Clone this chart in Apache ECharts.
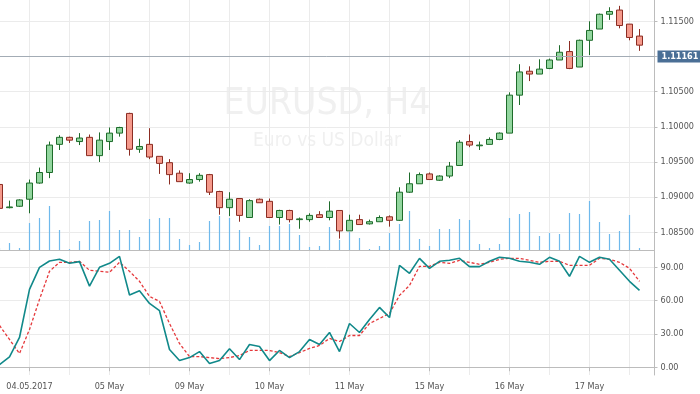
<!DOCTYPE html>
<html><head><meta charset="utf-8">
<script src="https://cdn.jsdelivr.net/npm/echarts@6/dist/echarts.min.js"></script>
<style>html,body{margin:0;padding:0;background:#fff}#c{width:700px;height:394px}</style>
</head><body><div id="c"></div>
<script>
// H4 candle times (MM-DD HH)
const times = ['05-03 20','05-04 00','05-04 04','05-04 08','05-04 12','05-04 16','05-04 20','05-05 00','05-05 04','05-05 08','05-05 12','05-05 16','05-05 20',
'05-08 00','05-08 04','05-08 08','05-08 12','05-08 16','05-08 20','05-09 00','05-09 04','05-09 08','05-09 12','05-09 16','05-09 20',
'05-10 00','05-10 04','05-10 08','05-10 12','05-10 16','05-10 20','05-11 00','05-11 04','05-11 08','05-11 12','05-11 16','05-11 20',
'05-12 00','05-12 04','05-12 08','05-12 12','05-12 16','05-12 20','05-15 00','05-15 04','05-15 08','05-15 12','05-15 16','05-15 20',
'05-16 00','05-16 04','05-16 08','05-16 12','05-16 16','05-16 20','05-17 00','05-17 04','05-17 08','05-17 12','05-17 16','05-17 20',
'05-18 00','05-18 04','05-18 08','05-18 12'];
const opens  = [1.0918,1.0885,1.0887,1.0897,1.0920,1.0935,1.0975,1.0985,1.0979,1.0985,1.0959,1.0979,1.0991,1.1019,1.0968,1.0975,1.0958,1.0949,1.0934,1.0920,1.0925,1.0932,1.0908,1.0885,1.0898,1.0871,1.0897,1.0894,1.0871,1.0881,1.0868,1.0868,1.0875,1.0871,1.0881,1.0852,1.0868,1.0862,1.0865,1.0872,1.0867,1.0907,1.0919,1.0933,1.0924,1.0930,1.0945,1.0979,1.0973,1.0975,1.0982,1.0991,1.1045,1.1079,1.1075,1.1083,1.1095,1.1107,1.1085,1.1123,1.1139,1.1160,1.1166,1.1146,1.1129];
const closes = [1.0884,1.0886,1.0896,1.0920,1.0935,1.0974,1.0985,1.0981,1.0984,1.0959,1.0981,1.0991,1.0999,1.0968,1.0972,1.0957,1.0948,1.0932,1.0922,1.0925,1.0931,1.0907,1.0885,1.0897,1.0874,1.0895,1.0892,1.0871,1.0881,1.0868,1.0869,1.0874,1.0871,1.0880,1.0852,1.0867,1.0861,1.0865,1.0871,1.0867,1.0907,1.0919,1.0932,1.0925,1.0930,1.0944,1.0978,1.0974,1.0974,1.0982,1.0991,1.1045,1.1078,1.1075,1.1082,1.1095,1.1106,1.1083,1.1123,1.1137,1.1160,1.1164,1.1144,1.1127,1.11161];
const lows   = [1.0882,1.0884,1.0886,1.0877,1.0919,1.0927,1.0967,1.0977,1.0974,1.0959,1.0950,1.0967,1.0986,1.0959,1.0963,1.0954,1.0933,1.0918,1.0922,1.0919,1.0922,1.0903,1.0875,1.0873,1.0865,1.0871,1.0892,1.0871,1.0861,1.0864,1.0855,1.0865,1.0871,1.0867,1.0841,1.0852,1.0861,1.0861,1.0865,1.0858,1.0866,1.0906,1.0919,1.0925,1.0923,1.0927,1.0945,1.0971,1.0967,1.0975,1.0981,1.0991,1.1031,1.1065,1.1075,1.1082,1.1095,1.1082,1.1085,1.1102,1.1139,1.1152,1.1140,1.1123,1.1108];
const highs  = [1.0920,1.0895,1.0897,1.0925,1.0942,1.0979,1.0988,1.0986,1.0991,1.0989,1.0992,1.0999,1.1000,1.1020,1.0983,1.0998,1.0958,1.0954,1.0938,1.0934,1.0934,1.0933,1.0909,1.0907,1.0898,1.0897,1.0898,1.0898,1.0882,1.0882,1.0871,1.0877,1.0880,1.0894,1.0881,1.0875,1.0875,1.0868,1.0874,1.0874,1.0914,1.0935,1.0935,1.0935,1.0931,1.0950,1.0981,1.0989,1.0979,1.0985,1.0992,1.1049,1.1089,1.1086,1.1096,1.1097,1.1116,1.1122,1.1124,1.1150,1.1161,1.1170,1.1172,1.1146,1.1139];
const volumes = [2,7,2,27,32,44,20,1,9,29,30,39,20,20,13,31,32,32,11,5,8,29,34,32,20,13,5,24,24,26,15,3,4,23,10,18,12,1,4,17,26,39,11,4,21,21,31,30,6,2,6,32,36,38,14,17,16,37,36,49,28,16,19,35,2];
const stochK = [2.4,9.3,26.8,70.1,90.0,95.7,97.2,93.6,95.1,73.1,90.0,93.6,99.9,65.0,68.9,57.5,50.9,16.0,6.0,8.7,14.1,3.3,6.0,16.6,6.9,20.5,18.7,6.0,15.1,8.7,14.1,25.0,20.5,31.3,14.1,39.4,31.3,43.0,53.9,44.8,91.8,84.6,98.1,89.1,95.4,96.3,98.1,90.6,90.6,95.4,99.0,98.1,95.4,94.5,92.7,99.0,95.4,81.9,99.9,94.5,99.0,97.2,87.3,77.4,69.2];
const stochD = [37.6,25.0,12.3,34.0,61.1,86.4,94.5,94.5,95.4,87.3,86.4,85.5,94.5,86.4,77.4,63.8,59.3,39.4,21.4,9.6,9.6,8.7,7.8,8.7,10.5,15.1,15.1,15.1,13.2,9.6,13.2,16.9,19.6,25.9,23.2,28.6,28.6,39.4,43.9,48.5,64.7,73.7,90.9,90.9,94.5,93.6,96.3,94.5,92.7,94.5,97.2,98.1,98.1,96.3,94.5,95.4,95.4,91.8,91.8,91.8,98.1,97.2,94.5,89.1,77.4];
const priceTicks = [1.085,1.090,1.095,1.100,1.105,1.110,1.115];
const stochTicks = [0,30,60,90];
const symbolName = 'EURUSD, H4';
const symbolDesc = 'Euro vs US Dollar';
const monthNames = {'05':'May'};

const lastClose = closes[closes.length-1];
const cats = times.concat(['']);
const candles = opens.map((o,i)=>[o, closes[i], lows[i], highs[i]]);
const FONT = 'DejaVu Sans Condensed';
const gridColor = '#ebebeb';
const axisColor = '#bcbcbc';
const labelEvery = (i)=> i % 8 === 3;
const gridEvery = (i)=> i % 4 === 3;
const fmtDate = (v, idx) => {
  if (!v) return '';
  const mm = v.slice(0,2), dd = v.slice(3,5);
  return idx === 3 ? dd + '.' + mm + '.2017' : dd + ' ' + monthNames[mm];
};

const chart = echarts.init(document.getElementById('c'), null, {renderer:'canvas'});
chart.setOption({
  animation: false,
  backgroundColor: '#ffffff',
  textStyle: {fontFamily: FONT},
  graphic: [
    {type:'text', x:327, y:104, z:0, silent:true,
     style:{text:symbolName, font:'37px "DejaVu Sans Condensed"', fill:'#f0f0f0', align:'center', verticalAlign:'middle'}},
    {type:'text', x:327, y:141, z:0, silent:true,
     style:{text:symbolDesc, font:'19px "DejaVu Sans Condensed"', fill:'#f0f0f0', align:'center', verticalAlign:'middle'}}
  ],
  grid: [
    {left:-5.5, top:0, width:660, height:250, containLabel:false, outerBoundsMode:'none'},
    {left:-5.5, top:250, width:660, height:125, containLabel:false, outerBoundsMode:'none'}
  ],
  xAxis: [
    {type:'category', gridIndex:0, data:cats, boundaryGap:true,
     axisLine:{show:true, lineStyle:{color:axisColor, width:1}},
     axisTick:{show:false}, axisLabel:{show:false},
     splitLine:{show:true, interval:(i)=>gridEvery(i), alignWithLabel:true, lineStyle:{color:gridColor, width:1}}},
    {type:'category', gridIndex:1, data:cats, boundaryGap:true,
     axisLine:{show:true, lineStyle:{color:axisColor, width:1}},
     axisTick:{show:true, alignWithLabel:true, interval:(i)=>labelEvery(i), length:4, lineStyle:{color:axisColor}},
     axisLabel:{show:true, interval:(i)=>labelEvery(i), formatter:fmtDate, color:'#555', fontSize:9, fontFamily:FONT, margin:7},
     splitLine:{show:true, interval:(i)=>gridEvery(i), alignWithLabel:true, lineStyle:{color:gridColor, width:1}}}
  ],
  yAxis: [
    {type:'value', gridIndex:0, position:'right', min:1.08248, max:1.11803,
     axisLine:{show:true, lineStyle:{color:axisColor, width:1}},
     axisTick:{show:true, customValues:priceTicks, length:3, lineStyle:{color:axisColor}},
     axisLabel:{show:true, customValues:priceTicks, formatter:(v)=>v.toFixed(5), color:'#555', fontSize:9, fontFamily:FONT, margin:6},
     splitLine:{show:true, lineStyle:{color:gridColor, width:1}}},
    {type:'value', gridIndex:0, min:0, max:250, show:false, splitLine:{show:false}},
    {type:'value', gridIndex:1, position:'right', min:-7, max:105.6,
     axisLine:{show:true, lineStyle:{color:axisColor, width:1}},
     axisTick:{show:true, customValues:stochTicks, length:3, lineStyle:{color:axisColor}},
     axisLabel:{show:true, customValues:stochTicks, formatter:(v)=>v.toFixed(2), color:'#555', fontSize:9, fontFamily:FONT, margin:6},
     splitLine:{show:true, lineStyle:{color:gridColor, width:1}}}
  ],
  series: [
    {name:'Volume', type:'bar', xAxisIndex:0, yAxisIndex:1, data:volumes, barWidth:1.2,
     itemStyle:{color:'#6fb9ec'}, silent:true, z:1},
    {name:symbolName, type:'candlestick', xAxisIndex:0, yAxisIndex:0, data:candles, barWidth:6, z:3,
     itemStyle:{color:'#93d69f', color0:'#f59a8c', borderColor:'#1d6b2a', borderColor0:'#8b2c22', borderWidth:1},
     markLine:{silent:true, symbol:['none','none'], animation:false,
       lineStyle:{color:'#a3acb5', width:1, type:'solid'},
       label:{show:true, position:'end', formatter:()=>lastClose.toFixed(5), backgroundColor:'#4a6f96', color:'#fff',
              fontWeight:'bold', fontSize:9, fontFamily:FONT, padding:[2,4,1,4], distance:3},
       data:[{yAxis:lastClose}]}},
    {name:'%K', type:'line', xAxisIndex:1, yAxisIndex:2, data:stochK, symbol:'none', z:4,
     lineStyle:{color:'#11898a', width:1.6}},
    {name:'%D', type:'line', xAxisIndex:1, yAxisIndex:2, data:stochD, symbol:'none', z:3,
     lineStyle:{color:'#e5383b', width:1.3, type:[3,2]}}
  ]
});
</script></body></html>
